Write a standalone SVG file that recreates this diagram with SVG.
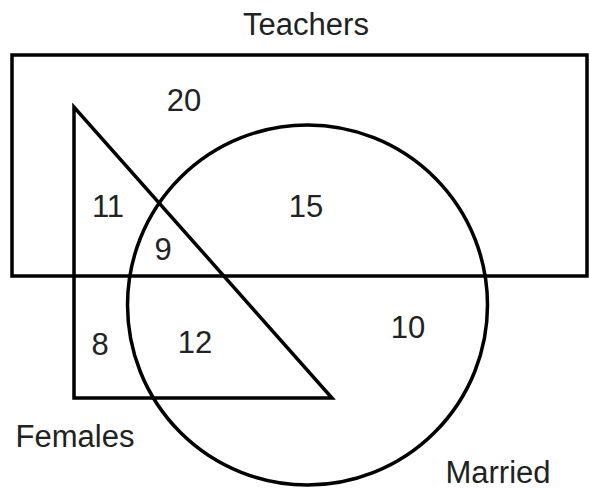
<svg xmlns="http://www.w3.org/2000/svg" width="590" height="491" viewBox="0 0 590 491">
<style>
.s{fill:none;stroke:#000;stroke-width:3.5;stroke-linejoin:miter}
text{font-family:"Liberation Sans",Arial,sans-serif;font-size:31px;fill:#222;text-anchor:middle}
</style>
<rect width="590" height="491" fill="#fff"/>
<g id="teachers">
<rect class="s" x="12" y="55" width="575" height="221"/>
<text x="306" y="35">Teachers</text>
</g>
<g id="females">
<polygon class="s" points="74,107 74,398 332,398"/>
<text x="75" y="447">Females</text>
</g>
<g id="married">
<circle class="s" cx="307.5" cy="305" r="180"/>
<text x="498" y="483">Married</text>
</g>
<g id="counts">
<text x="184" y="111">20</text>
<text x="108" y="217">11</text>
<text x="306" y="217">15</text>
<text x="163" y="260">9</text>
<text x="408" y="338">10</text>
<text x="100" y="355">8</text>
<text x="195" y="353">12</text>
</g>
<g id="connectors"></g>
</svg>
